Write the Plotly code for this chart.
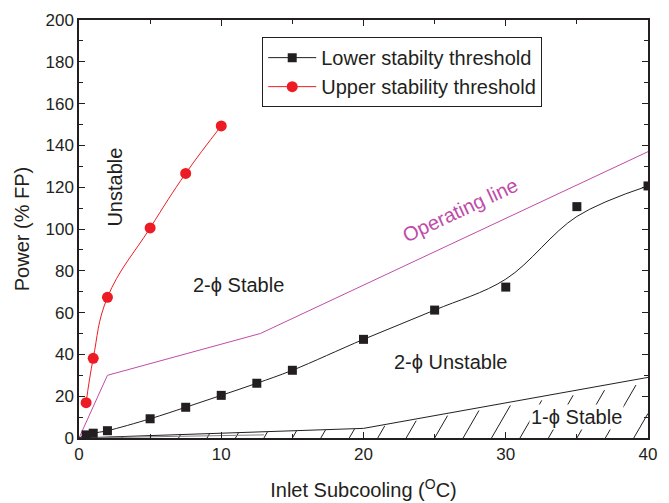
import plotly.graph_objects as go

# Lower stability threshold (measured points)
lower_x = [0.5, 1, 2, 5, 7.5, 10, 12.5, 15, 20, 25, 30, 35, 40]
lower_y = [1.5, 2.3, 3.5, 9.2, 14.7, 20.4, 26.2, 32.4, 47.2, 61.2, 72.2, 110.7, 120.6]

# Smoothed curve drawn through the lower threshold
lower_fit_x = [0, 0.5, 1, 2, 5, 7.5, 10, 12.5, 15, 20, 25, 30, 35, 40]
lower_fit_y = [0, 1.5, 2.3, 3.5, 9.2, 14.7, 20.4, 26.2, 32.4, 47.2, 61.2, 76, 106, 120.6]

# Upper stability threshold
upper_x = [0.5, 1, 2, 5, 7.5, 10]
upper_y = [16.9, 38.1, 67.3, 100.5, 126.6, 149.3]

# Operating line
op_x = [0, 2, 12.75, 40]
op_y = [0, 30, 50, 137]

# Single-phase stable boundary
sp_x = [0, 20, 40]
sp_y = [0, 4.6, 29]
sp_low_x = [0, 13]
sp_low_y = [0, 1.5]

BLACK = "#231f20"
RED = "#ed1c24"
MAGENTA = "#c04ca8"
FONT = "Arial, Liberation Sans, sans-serif"


def boundary_at(x):
    """Linear interpolation of the single-phase boundary."""
    for i in range(len(sp_x) - 1):
        if sp_x[i] <= x <= sp_x[i + 1]:
            t = (x - sp_x[i]) / (sp_x[i + 1] - sp_x[i])
            return sp_y[i] + t * (sp_y[i + 1] - sp_y[i])
    return sp_y[-1]


# hatch strokes under the single-phase boundary ("/" slant)
hatch_x, hatch_y = [], []
x0 = 3.0
while x0 < 39.5:
    top = boundary_at(x0)
    dx = top * 0.085
    if x0 + dx > 40:
        dx = 40 - x0
        top = dx / 0.085
    hatch_x += [x0, x0 + dx, None]
    hatch_y += [0, min(top, boundary_at(x0 + dx)), None]
    x0 += 2.0

fig = go.Figure()

fig.add_trace(go.Scatter(
    x=hatch_x, y=hatch_y, mode="lines",
    line=dict(color=BLACK, width=1), showlegend=False, hoverinfo="skip"))
fig.add_trace(go.Scatter(
    x=sp_x, y=sp_y, mode="lines",
    line=dict(color=BLACK, width=1), showlegend=False, hoverinfo="skip"))
fig.add_trace(go.Scatter(
    x=sp_low_x, y=sp_low_y, mode="lines",
    line=dict(color="#808080", width=1), showlegend=False, hoverinfo="skip"))

# operating line
fig.add_trace(go.Scatter(
    x=op_x, y=op_y, mode="lines",
    line=dict(color=MAGENTA, width=1), showlegend=False))

# lower threshold curve + points
fig.add_trace(go.Scatter(
    x=lower_fit_x, y=lower_fit_y, mode="lines", line_shape="spline",
    line=dict(color=BLACK, width=1), showlegend=False))
fig.add_trace(go.Scatter(
    x=lower_x, y=lower_y, mode="markers",
    marker=dict(symbol="square", size=9, color=BLACK),
    showlegend=False))
fig.add_trace(go.Scatter(
    x=[None], y=[None], mode="lines+markers",
    name="Lower stabilty threshold",
    line=dict(color=BLACK, width=1),
    marker=dict(symbol="square", size=9, color=BLACK)))

# upper threshold
fig.add_trace(go.Scatter(
    x=upper_x, y=upper_y, mode="lines+markers",
    line=dict(color=RED, width=1, shape="spline", smoothing=1.2),
    name="Upper stability threshold",
    marker=dict(symbol="circle", size=11, color=RED)))

# region labels
LABEL = dict(size=20, color=BLACK)
fig.add_annotation(x=2.56, y=120, text="Unstable", textangle=-90,
                   showarrow=False, font=LABEL)
fig.add_annotation(x=11.2, y=73.2, text="2-ϕ Stable",
                   showarrow=False, font=LABEL)
fig.add_annotation(x=26.1, y=36.2, text="2-ϕ Unstable",
                   showarrow=False, font=LABEL)
fig.add_annotation(x=35.0, y=9.9, text="1-ϕ Stable", bgcolor="white",
                   showarrow=False, font=LABEL)
fig.add_annotation(x=26.8, y=109, text="Operating line", textangle=-25,
                   showarrow=False, font=dict(size=20, color=MAGENTA))

axis_common = dict(
    showline=True, linecolor=BLACK, linewidth=1.5, mirror="allticks",
    ticks="inside", ticklen=6, tickwidth=1, tickcolor=BLACK,
    showgrid=False, zeroline=False, automargin=False,
    tickfont=dict(size=17, color=BLACK),
)

fig.update_xaxes(range=[0, 40], dtick=10, tick0=0,
                 minor=dict(dtick=5, ticks="inside", ticklen=4, tickcolor=BLACK),
                 title=dict(text="Inlet Subcooling (<sup>O</sup>C)",
                            font=dict(size=20, color=BLACK), standoff=20),
                 **axis_common)
fig.update_yaxes(range=[0, 200], dtick=20, tick0=0,
                 minor=dict(dtick=10, ticks="inside", ticklen=4, tickcolor=BLACK),
                 title=dict(text="Power (% FP)",
                            font=dict(size=20, color=BLACK), standoff=10),
                 **axis_common)

fig.update_layout(
    width=669, height=503,
    margin=dict(l=79, r=21, t=20, b=65),
    paper_bgcolor="white", plot_bgcolor="white",
    font=dict(family=FONT, color=BLACK),
    legend=dict(x=0.322, y=0.959, xanchor="left", yanchor="top",
                bordercolor=BLACK, borderwidth=1, bgcolor="white",
                font=dict(size=20, color=BLACK), itemwidth=48,
                tracegroupgap=0),
)

fig.write_html("out.html")
